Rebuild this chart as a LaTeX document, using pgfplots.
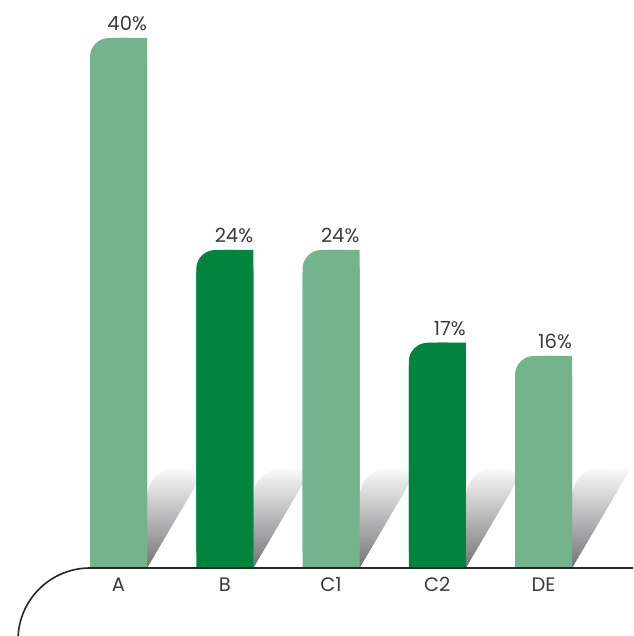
\documentclass[border=0pt]{standalone}
\usepackage{fontspec}
\setmainfont{Poppins}
\usepackage{pgfplots}
\pgfplotsset{compat=1.18}
\usepackage{pgfplotstable}
\definecolor{lg}{RGB}{116,180,141}
\definecolor{dg}{RGB}{0,132,62}
\definecolor{txt}{RGB}{58,58,58}
\definecolor{shtop}{RGB}{250,250,250}
\definecolor{shbot}{RGB}{62,62,66}

\pgfplotstableread{
x v
0 40
2 24
4 16
}\lightdata
\pgfplotstableread{
x v
1 24
3 17
}\darkdata

\begin{document}
\begin{tikzpicture}[x=1pt,y=1pt]
\begin{axis}[at={(0,0)}, anchor=south west, scale only axis,
  width=633pt, height=568pt,
  xmin=-1.1153, xmax=4.8424, ymin=0, ymax=42.868,
  axis line style={draw=none}, ytick=\empty,
  xtick={0,1,2,3,4}, xticklabels={A,B,C1,C2,DE},
  major tick length=0pt,
  /pgf/number format/assume math mode=true,
  xticklabel style={font=\fontsize{19.5}{23}\selectfont, text=txt, yshift=-6pt},
  every node near coord/.style={anchor=south east, xshift=28.5pt, yshift=7pt, inner sep=0pt, font=\fontsize{19.5}{23}\selectfont, text=txt},
  shadow/.style={draw=none, top color=shtop, bottom color=shbot, rounded corners=28pt},
  shadowb/.style={draw=none, top color=shtop, bottom color=shbot},
  ]
% shadows (rounded top-left) and sharp right part
\addplot[shadow] coordinates {(0.268,-3) (0.268,7.5) (0.818,7.5) (0.048,-3)} -- cycle;
\addplot[shadowb] coordinates {(0.548,7.5) (0.818,7.5) (0.048,-3) (-0.032,-3)} -- cycle;
\addplot[shadow] coordinates {(1.268,-3) (1.268,7.5) (1.818,7.5) (1.048,-3)} -- cycle;
\addplot[shadowb] coordinates {(1.548,7.5) (1.818,7.5) (1.048,-3) (0.968,-3)} -- cycle;
\addplot[shadow] coordinates {(2.268,-3) (2.268,7.5) (2.818,7.5) (2.048,-3)} -- cycle;
\addplot[shadowb] coordinates {(2.548,7.5) (2.818,7.5) (2.048,-3) (1.968,-3)} -- cycle;
\addplot[shadow] coordinates {(3.268,-3) (3.268,7.5) (3.818,7.5) (3.048,-3)} -- cycle;
\addplot[shadowb] coordinates {(3.548,7.5) (3.818,7.5) (3.048,-3) (2.968,-3)} -- cycle;
\addplot[shadow] coordinates {(4.268,-3) (4.268,7.5) (4.818,7.5) (4.048,-3)} -- cycle;
\addplot[shadowb] coordinates {(4.548,7.5) (4.818,7.5) (4.048,-3) (3.968,-3)} -- cycle;
% light bars
\addplot[ybar, bar width=57pt, bar shift=0pt, fill=lg, draw=none, rounded corners=19pt] table[x=x,y=v]{\lightdata};
\addplot[ybar, bar width=28.5pt, bar shift=-14.25pt, fill=lg, draw=none] table[x=x,y expr=\thisrow{v}-1.7]{\lightdata};
\addplot[ybar, bar width=28.5pt, bar shift=14.25pt, fill=lg, draw=none,
  nodes near coords={\pgfmathprintnumber{\pgfplotspointmeta}\%}] table[x=x,y=v]{\lightdata};
% dark bars
\addplot[ybar, bar width=57pt, bar shift=0pt, fill=dg, draw=none, rounded corners=19pt] table[x=x,y=v]{\darkdata};
\addplot[ybar, bar width=28.5pt, bar shift=-14.25pt, fill=dg, draw=none] table[x=x,y expr=\thisrow{v}-1.7]{\darkdata};
\addplot[ybar, bar width=28.5pt, bar shift=14.25pt, fill=dg, draw=none,
  nodes near coords={\pgfmathprintnumber{\pgfplotspointmeta}\%}] table[x=x,y=v]{\darkdata};
\end{axis}
\draw[line width=1.6pt, color=black!85] (633,0) -- (90,0) arc[start angle=90, end angle=180, radius=72];
\pgfresetboundingbox
\useasboundingbox (0,-68) rectangle (633,568);
\end{tikzpicture}
\end{document}
